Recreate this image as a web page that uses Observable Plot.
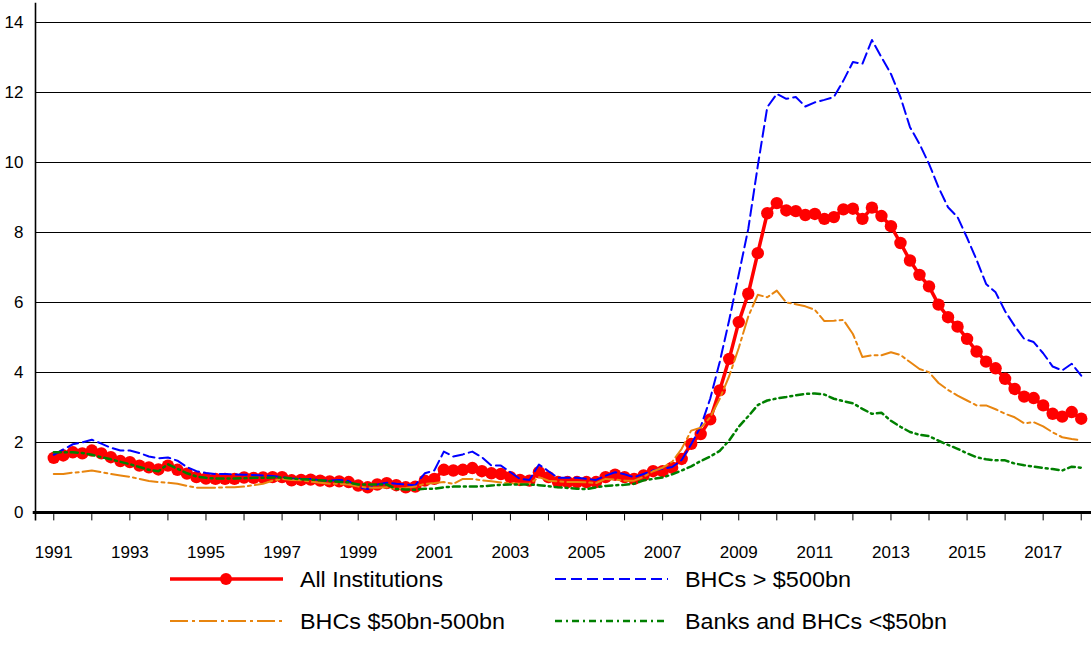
<!DOCTYPE html>
<html>
<head>
<meta charset="utf-8">
<script src="https://cdn.jsdelivr.net/npm/d3@7"></script>
<script src="https://cdn.jsdelivr.net/npm/@observablehq/plot@0.6"></script>
<style>
  html, body { margin: 0; padding: 0; background: #fff; }
  body { width: 1091px; height: 662px; position: relative; overflow: hidden; font-family: "Liberation Sans", Arial, sans-serif; }
  #chart { position: absolute; left: 0; top: 0; }
  #chart svg text { font-family: "Liberation Sans", Arial, sans-serif !important; font-size: 17px !important; }
  #legend { position: absolute; left: 0; top: 556px; }
</style>
</head>
<body>
<div id="chart"></div>
<div id="legend"></div>
<script>
// Quarterly observations, 1991Q1 .. 2018Q1
const startYear = 1991;
const allInstitutions = [
  1.56, 1.63, 1.72, 1.69,  1.77, 1.69, 1.58, 1.47,  1.44, 1.34, 1.29, 1.23,  1.34, 1.22, 1.11, 1.01,
  0.97, 0.96, 0.96, 0.96,  1.00, 0.99, 1.00, 1.01,  1.01, 0.92, 0.93, 0.94,  0.91, 0.89, 0.89, 0.87,
  0.77, 0.72, 0.80, 0.84,  0.78, 0.72, 0.74, 0.91,  0.96, 1.22, 1.20, 1.22,  1.27, 1.18, 1.12, 1.10,
  1.01, 0.93, 0.91, 1.15,  1.01, 0.87, 0.87, 0.87,  0.87, 0.87, 1.01, 1.08,  1.01, 0.96, 1.06, 1.18,
  1.18, 1.28, 1.53, 1.96,  2.24, 2.66, 3.49, 4.39,  5.44, 6.25, 7.41, 8.55,  8.84, 8.63, 8.61, 8.50,
  8.53, 8.39, 8.44, 8.66,  8.68, 8.39, 8.71, 8.47,  8.18, 7.70, 7.20, 6.79,  6.46, 5.94, 5.58, 5.31,
  4.96, 4.60, 4.31, 4.12,  3.82, 3.53, 3.31, 3.27,  3.06, 2.82, 2.74, 2.87,  2.68
];
const bhcOver500 = [
  1.65, 1.80, 1.95, 2.00,  2.08, 1.97, 1.85, 1.77,  1.77, 1.70, 1.60, 1.55,  1.57, 1.48, 1.30, 1.18,
  1.13, 1.10, 1.10, 1.09,  1.08, 1.07, 1.06, 1.04,  1.01, 0.97, 0.96, 0.96,  0.92, 0.91, 0.93, 0.90,
  0.73, 0.67, 0.80, 0.85,  0.82, 0.80, 0.78, 1.12,  1.20, 1.74, 1.60, 1.66,  1.74, 1.58, 1.34, 1.34,
  1.15, 0.96, 0.93, 1.37,  1.18, 0.99, 0.99, 0.99,  0.96, 0.93, 1.05, 1.15,  1.09, 1.01, 1.10, 1.20,
  1.25, 1.30, 1.50, 1.95,  2.45, 3.25, 4.30, 5.50,  6.80, 8.10, 9.90, 11.58,  11.96, 11.82, 11.87, 11.60,
  11.72, 11.79, 11.87, 12.34,  12.87, 12.82, 13.50, 13.01,  12.53, 11.87, 11.01, 10.53,  9.96, 9.29, 8.72, 8.44,
  7.85, 7.22, 6.53, 6.29,  5.75, 5.33, 4.96, 4.87,  4.55, 4.17, 4.06, 4.25,  3.91
];
const bhc50to500 = [
  1.10, 1.10, 1.14, 1.16,  1.20, 1.15, 1.10, 1.06,  1.02, 0.96, 0.90, 0.87,  0.85, 0.82, 0.76, 0.71,
  0.71, 0.71, 0.72, 0.72,  0.74, 0.78, 0.82, 0.91,  0.96, 0.93, 0.92, 0.88,  0.85, 0.82, 0.82, 0.80,
  0.74, 0.71, 0.71, 0.72,  0.67, 0.70, 0.74, 0.82,  0.84, 0.87, 0.82, 0.96,  0.96, 0.92, 0.89, 0.86,
  0.84, 0.82, 0.82, 1.01,  0.91, 0.89, 0.87, 0.87,  0.86, 0.84, 0.96, 0.94,  0.91, 0.91, 1.02, 1.18,
  1.28, 1.45, 1.82, 2.34,  2.42, 2.72, 3.25, 3.90,  4.70, 5.60, 6.22, 6.15,  6.34, 6.00, 5.95, 5.89,
  5.79, 5.47, 5.48, 5.50,  5.10, 4.44, 4.49, 4.49,  4.58, 4.50, 4.30, 4.10,  4.01, 3.70, 3.50, 3.34,
  3.20, 3.06, 3.06, 2.95,  2.82, 2.72, 2.55, 2.58,  2.46, 2.29, 2.15, 2.10,  2.06
];
const banksUnder50 = [
  1.72, 1.72, 1.72, 1.70,  1.65, 1.58, 1.52, 1.45,  1.38, 1.30, 1.22, 1.18,  1.38, 1.25, 1.12, 1.03,
  0.99, 0.97, 0.97, 0.97,  0.98, 0.99, 0.99, 1.00,  1.00, 0.97, 0.95, 0.94,  0.92, 0.90, 0.88, 0.86,
  0.80, 0.80, 0.80, 0.80,  0.67, 0.66, 0.65, 0.68,  0.68, 0.72, 0.74, 0.74,  0.74, 0.75, 0.77, 0.79,
  0.80, 0.80, 0.80, 0.78,  0.75, 0.72, 0.70, 0.68,  0.67, 0.72, 0.76, 0.78,  0.79, 0.82, 0.92, 0.96,
  1.00, 1.09, 1.20, 1.32,  1.47, 1.60, 1.76, 2.06,  2.45, 2.75, 3.07, 3.20,  3.26, 3.30, 3.35, 3.39,
  3.40, 3.37, 3.25, 3.18,  3.12, 2.96, 2.82, 2.85,  2.62, 2.45, 2.30, 2.22,  2.18, 2.05, 1.93, 1.82,
  1.69, 1.58, 1.52, 1.49,  1.49, 1.40, 1.35, 1.31,  1.27, 1.24, 1.20, 1.31,  1.28
];
const yTicks = [0, 2, 4, 6, 8, 10, 12, 14];
const yearTicks = d3.range(1991, 2019);
const yearLabels = d3.range(1991, 2018, 2);
const seriesNames = ["All Institutions", "BHCs > $500bn", "BHCs $50bn-500bn", "Banks and BHCs <$50bn"];

const toRows = (vals, name) => vals.map((v, i) => ({t: startYear + i / 4, v, name}));
const red = toRows(allInstitutions, seriesNames[0]);
const blue = toRows(bhcOver500, seriesNames[1]);
const orange = toRows(bhc50to500, seriesNames[2]);
const green = toRows(banksUnder50, seriesNames[3]);

const xMin = 1990.52, xMax = 2018.27;
const blueDash = "11,5", orangeDash = "18,4,3,4", greenDash = "7,4,2,4";

const chart = Plot.plot({
  width: 1091,
  height: 572,
  marginLeft: 35,
  marginRight: 0,
  marginTop: 22,
  marginBottom: 60,
  x: {domain: [xMin, xMax]},
  y: {domain: [0, 14]},
  style: {fontFamily: "'Liberation Sans', Arial, sans-serif", fontSize: "17px", color: "#000", background: "#fff"},
  marks: [
    Plot.ruleY(yTicks.filter(d => d > 0), {stroke: "#000", strokeWidth: 1.2}),
    Plot.ruleX(yearTicks, {y1: -0.06, y2: -0.24, stroke: "#000", strokeWidth: 1}),
    Plot.ruleX([xMin], {y1: -0.24, y2: 14.55, stroke: "#000", strokeWidth: 1.6}),
    Plot.ruleY([0], {x1: 1990.46, x2: xMax, stroke: "#000", strokeWidth: 3}),
    Plot.axisY({ticks: yTicks, tickSize: 0, tickPadding: 12, label: null}),
    Plot.axisX({ticks: yearLabels, tickSize: 0, tickPadding: 33, tickFormat: d => String(d), label: null}),
    Plot.line(red, {x: "t", y: "v", stroke: "#ff0000", strokeWidth: 3.5}),
    Plot.dot(red, {x: "t", y: "v", r: 6.2, fill: "#ff0000", stroke: "none"}),
    Plot.line(blue, {x: "t", y: "v", stroke: "#0000ff", strokeWidth: 2, strokeDasharray: blueDash}),
    Plot.line(orange, {x: "t", y: "v", stroke: "#e8850f", strokeWidth: 2, strokeDasharray: orangeDash}),
    Plot.line(green, {x: "t", y: "v", stroke: "#008000", strokeWidth: 2.5, strokeDasharray: greenDash})
  ]
});
document.getElementById("chart").appendChild(chart);

// Legend
const lg = d3.select("#legend").append("svg").attr("width", 1091).attr("height", 106)
  .style("font-family", "'Liberation Sans', Arial, sans-serif");
const items = [
  {name: seriesNames[0], x: 170, y: 23, stroke: "#ff0000", w: 3.5, dash: null, dot: true, len: 143},
  {name: seriesNames[1], x: 555, y: 23, stroke: "#0000ff", w: 2, dash: blueDash, len: 166},
  {name: seriesNames[2], x: 170, y: 65, stroke: "#e8850f", w: 2, dash: orangeDash, len: 205},
  {name: seriesNames[3], x: 555, y: 65, stroke: "#008000", w: 2.5, dash: greenDash, len: 262}
];
items.forEach(it => {
  const g = lg.append("g");
  g.append("line").attr("x1", it.x).attr("x2", it.x + 113).attr("y1", it.y).attr("y2", it.y)
    .attr("stroke", it.stroke).attr("stroke-width", it.w).attr("stroke-dasharray", it.dash);
  if (it.dot) g.append("circle").attr("cx", it.x + 56).attr("cy", it.y).attr("r", 6).attr("fill", it.stroke);
  g.append("text").attr("x", it.x + 130).attr("y", it.y).attr("dy", "0.36em")
    .attr("font-size", 22).attr("fill", "#000")
    .attr("textLength", it.len).attr("lengthAdjust", "spacingAndGlyphs").text(it.name);
});
</script>
</body>
</html>
